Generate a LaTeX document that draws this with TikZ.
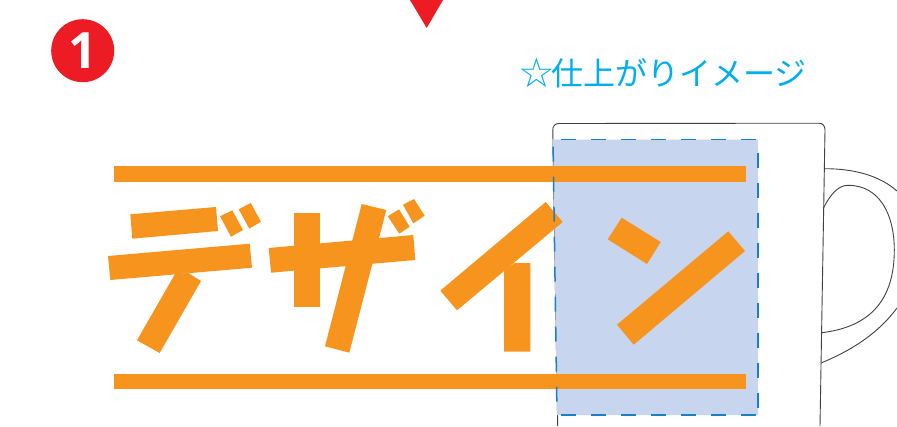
\documentclass[tikz,border=0pt]{standalone}
\usepackage{fontspec}
\newfontfamily\cjk{Noto Sans CJK JP}
\newfontfamily\numfont{Open Sans}
\newfontfamily\starfont{DejaVu Sans}
\definecolor{logoorange}{HTML}{F7941D}
\definecolor{printblue}{HTML}{C7D5EE}
\definecolor{dashblue}{HTML}{1B7FC4}
\definecolor{markred}{HTML}{ED1C24}
\definecolor{capblue}{HTML}{00AEEF}
\tikzset{
  logo/.style={fill=logoorange,draw=none},
  mugline/.style={draw=black!75,line width=0.9pt},
  printarea/.style={fill=printblue,draw=none},
  printedge/.style={draw=dashblue,line width=1.5pt,dash pattern=on 15pt off 15pt}
}
\begin{document}
\begin{tikzpicture}[x=1pt,y=-1pt]
\useasboundingbox (0,0) rectangle (897,426);
% mug
\draw[mugline] (557.7,426) -- (552.8,130) .. controls (552.7,126) and (555,123.5) .. (559,123.5)
  -- (819,123.2) .. controls (823,123.2) and (825,126) .. (825,130) -- (820,426);
\draw[mugline] (825,168.7) .. controls (855,168.7) and (880,176) .. (897,191);
\draw[mugline] (897,308) .. controls (880,331) and (855,349) .. (821.7,362.7);
\draw[mugline] (823.3,208.3) .. controls (830,195) and (838,185.3) .. (848,185.3)
  .. controls (880,185.3) and (894.3,215) .. (894.3,250)
  .. controls (894.3,300) and (870,327) .. (821.7,332.7);
% print area
\path[printarea] (553,139.7) -- (758,139.7) -- (758,415) -- (557,415) -- cycle;
% logo bars
\fill[logo] (114,166) rectangle (746,181.5);
\fill[logo] (114,373.5) rectangle (746,389);
% de
\fill[logo] (130.3,214.3) -- (216,207) -- (218,231) -- (132.3,238.7) -- cycle;
\fill[logo] (220,216.3) -- (232.3,210.3) -- (243,230) -- (231,236.7) -- cycle;
\fill[logo] (238.7,209.3) -- (250.7,203) -- (261,221.7) -- (249.3,228.7) -- cycle;
\fill[logo] (108,256) -- (249.7,243.7) -- (252,267.7) -- (110.3,280) -- cycle;
\fill[logo] (175,274) -- (188.3,273) -- (201,281) -- (159.7,353) -- (137,340.3) -- cycle;
% za
\fill[logo] (268.7,248) -- (413.3,235) -- (415.3,260) -- (271,272.7) -- cycle;
\fill[logo] (294,213) rectangle (319.7,306.7);
\fill[logo] (361.7,204) -- (386.3,210) -- (349.3,352.7) -- (325,346.3) -- cycle;
\fill[logo] (387.7,216.3) -- (399,209.3) -- (409.7,226.7) -- (399.3,233.7) -- cycle;
\fill[logo] (403,204.7) -- (414,199) -- (424.7,215.7) -- (413.3,223.3) -- cycle;
% i
\fill[logo] (545.7,202) -- (562.7,222) -- (457,310.3) -- (440.3,290.7) -- cycle;
\fill[logo] (504,270) -- (514.7,263) -- (530.3,263) -- (530.3,351.7) -- (504,351.7) -- cycle;
% n
\fill[logo] (621.7,217.7) -- (660.7,242) -- (647,264) -- (607.7,239.3) -- cycle;
\fill[logo] (728.3,231.3) -- (745,251) -- (633.7,344.7) -- (617,324.7) -- cycle;
% print area edge
\draw[printedge,dash phase=22pt] (553,139.7) -- (758,139.7) -- (758,415);
\draw[printedge,dash phase=28pt] (758,415) -- (557,415);
\draw[printedge,dash phase=16.7pt] (557,415) -- (553,139.7);
% markers
\fill[markred] (410,0) -- (443,0) -- (426.7,28) -- cycle;
\node[circle,fill=markred,minimum size=63pt,inner sep=0pt,text=white,font=\numfont\bfseries\fontsize{50}{50}\selectfont] (badge) at (82.7,50.7) {1};
\node[anchor=base west,text=capblue,inner sep=0pt,font=\cjk\fontsize{32}{32}\selectfont] (caption) at (519,85) {\makebox[32pt][c]{\hspace{3pt}\starfont\fontsize{41}{41}\selectfont\raisebox{-2.5pt}{☆}}仕上がりイメージ};
\end{tikzpicture}
\end{document}
